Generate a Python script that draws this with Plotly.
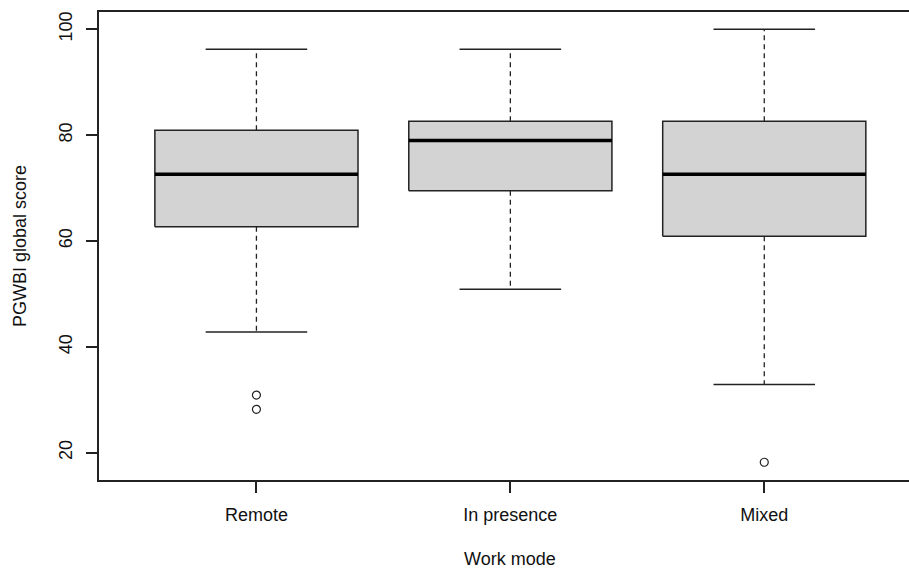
import plotly.graph_objects as go

# ---- data ----
categories = ["Remote", "In presence", "Mixed"]
q1 = [62.7, 69.5, 60.9]
median = [72.6, 79.0, 72.6]
q3 = [80.9, 82.6, 82.6]
lower_whisker = [42.8, 50.9, 32.9]
upper_whisker = [96.2, 96.2, 100.0]
outliers = [[30.9, 28.2], [], [18.2]]
y_ticks = [20, 40, 60, 80, 100]

FONT = "Liberation Sans, Arial, sans-serif"
LINE = "#222222"
BOXW = 0.4   # half box width (R default width 0.8)
CAPW = 0.2   # half cap width

fig = go.Figure()

# boxes
bx, by = [], []
for i, c in enumerate(categories):
    p = i + 1
    bx += [p - BOXW, p + BOXW, p + BOXW, p - BOXW, p - BOXW, None]
    by += [q1[i], q1[i], q3[i], q3[i], q1[i], None]
fig.add_trace(go.Scatter(x=bx, y=by, mode="lines", fill="toself",
                         fillcolor="#D3D3D3", line=dict(color=LINE, width=1.5),
                         hoverinfo="skip", showlegend=False))

# whiskers (dashed)
wx, wy = [], []
for i, c in enumerate(categories):
    p = i + 1
    wx += [p, p, None, p, p, None]
    wy += [q3[i], upper_whisker[i], None, q1[i], lower_whisker[i], None]
fig.add_trace(go.Scatter(x=wx, y=wy, mode="lines",
                         line=dict(color=LINE, width=1.3, dash="5px,4px"),
                         hoverinfo="skip", showlegend=False))

# caps
cx, cy = [], []
for i, c in enumerate(categories):
    p = i + 1
    cx += [p - CAPW, p + CAPW, None, p - CAPW, p + CAPW, None]
    cy += [upper_whisker[i], upper_whisker[i], None, lower_whisker[i], lower_whisker[i], None]
fig.add_trace(go.Scatter(x=cx, y=cy, mode="lines",
                         line=dict(color=LINE, width=1.5),
                         hoverinfo="skip", showlegend=False))

# medians
mx, my = [], []
for i, c in enumerate(categories):
    p = i + 1
    mx += [p - BOXW, p + BOXW, None]
    my += [median[i], median[i], None]
fig.add_trace(go.Scatter(x=mx, y=my, mode="lines",
                         line=dict(color="#000000", width=3.5),
                         hoverinfo="skip", showlegend=False))

# outliers
ox, oy = [], []
for i, vals in enumerate(outliers):
    for v in vals:
        ox.append(i + 1)
        oy.append(v)
fig.add_trace(go.Scatter(x=ox, y=oy, mode="markers",
                         marker=dict(symbol="circle-open", size=8,
                                     color=LINE, line=dict(width=1.2, color=LINE)),
                         showlegend=False))

fig.update_layout(
    width=909, height=570,
    margin=dict(l=99, r=0, t=12, b=90),
    paper_bgcolor="white", plot_bgcolor="white",
    font=dict(family=FONT, size=18, color="#111111"),
    showlegend=False,
    xaxis=dict(range=[0.38, 3.57], tickmode="array",
               tickvals=[1, 2, 3], ticktext=categories,
               showgrid=False, zeroline=False,
               showline=True, linecolor=LINE, linewidth=1.5, mirror=True,
               ticks="outside", ticklen=11, tickwidth=1.5, tickcolor=LINE,
               ticklabelstandoff=7),
    yaxis=dict(range=[14.85, 103.25], tickmode="array",
               tickvals=y_ticks, ticktext=[str(t) for t in y_ticks],
               tickangle=-90,
               showgrid=False, zeroline=False,
               showline=True, linecolor=LINE, linewidth=1.5, mirror=False,
               ticks="outside", ticklen=11, tickwidth=1.5, tickcolor=LINE,
               ticklabelstandoff=7),
    annotations=[
        dict(text="Work mode", xref="x", x=2.0, yref="paper", y=0,
             yshift=-67, yanchor="top", showarrow=False,
             font=dict(family=FONT, size=18, color="#111111")),
        dict(text="PGWBI global score", xref="paper", x=0, xshift=-79,
             xanchor="center", yref="paper", y=0.5, yanchor="middle",
             textangle=-90, showarrow=False,
             font=dict(family=FONT, size=18, color="#111111")),
    ],
)

fig.write_html("out.html",
               config={"displayModeBar": False},
               post_script="document.body.style.margin='0';document.body.style.overflow='hidden';")
